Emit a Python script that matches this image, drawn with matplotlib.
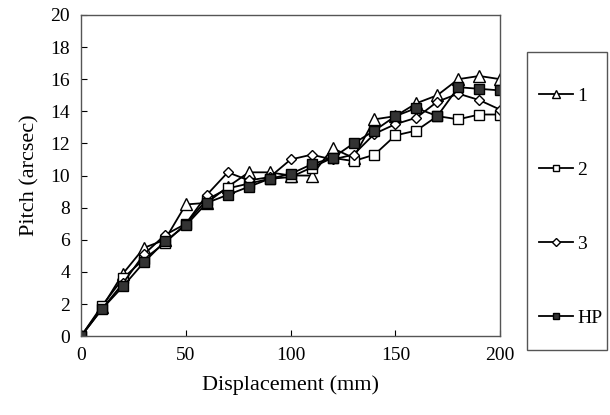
import numpy as np
import matplotlib.pyplot as plt
from matplotlib.patches import Rectangle

plt.rcParams['font.family'] = ['Liberation Serif', 'DejaVu Serif']

disp = [0, 10, 20, 30, 40, 50, 60, 70, 80, 90, 100, 110, 120, 130, 140, 150, 160, 170, 180, 190, 200]
s1 = [0, 1.8, 3.9, 5.5, 6.0, 8.2, 8.3, 9.3, 10.2, 10.2, 10.0, 10.0, 11.7, 11.1, 13.5, 13.7, 14.5, 15.0, 16.0, 16.2, 16.0]
s2 = [0, 1.9, 3.6, 4.8, 5.8, 7.0, 8.5, 9.2, 9.5, 9.8, 9.9, 10.5, 11.1, 10.9, 11.3, 12.5, 12.8, 13.7, 13.5, 13.8, 13.8]
s3 = [0, 1.7, 3.3, 5.1, 6.3, 7.0, 8.8, 10.2, 9.7, 9.9, 11.0, 11.3, 11.0, 11.3, 12.6, 13.2, 13.6, 14.6, 15.1, 14.7, 14.1]
hp = [0, 1.7, 3.1, 4.6, 5.9, 6.9, 8.3, 8.8, 9.3, 9.8, 10.1, 10.7, 11.1, 12.0, 12.8, 13.7, 14.2, 13.7, 15.5, 15.4, 15.3]
labels = ['1', '2', '3', 'HP']

fig = plt.figure(figsize=(6.1, 4.15), dpi=100)
ax = fig.add_axes([0.133, 0.190, 0.687, 0.774])

ms = 7
ax.plot(disp, s1, '-^', color='black', mfc='white', mec='black', ms=ms+1, lw=1.3, label=labels[0])
ax.plot(disp, s2, '-s', color='black', mfc='white', mec='black', ms=ms, lw=1.3, label=labels[1])
ax.plot(disp, s3, '-D', color='black', mfc='white', mec='black', ms=ms-1.5, lw=1.3, label=labels[2])
ax.plot(disp, hp, '-s', color='black', mfc='#333333', mec='black', ms=ms, lw=1.3, label=labels[3])

ax.set_xlim(0, 200)
ax.set_ylim(0, 20)
ax.set_xticks(np.arange(0, 201, 50))
ax.set_yticks(np.arange(0, 21, 2))
ax.tick_params(direction='in', length=4, labelsize=14, pad=8)
for sp in ax.spines.values():
    sp.set_color('#555555')
    sp.set_linewidth(1)
ax.set_xlabel('Displacement (mm)', fontsize=16, labelpad=8)
ax.set_ylabel('Pitch (arcsec)', fontsize=16, labelpad=8)

# legend box drawn separately so its size matches
fig.patches.append(Rectangle((0.864, 0.157), 0.131, 0.718, transform=fig.transFigure,
                             fill=False, edgecolor='#555555', lw=1))
leg = fig.legend(loc='upper left', bbox_to_anchor=(0.883, 0.790), fontsize=14,
                 labelspacing=2.9, handlelength=1.75, handletextpad=0.25,
                 borderpad=0, borderaxespad=0, markerscale=0.7, frameon=False)

fig.savefig('out.png', dpi=100)
